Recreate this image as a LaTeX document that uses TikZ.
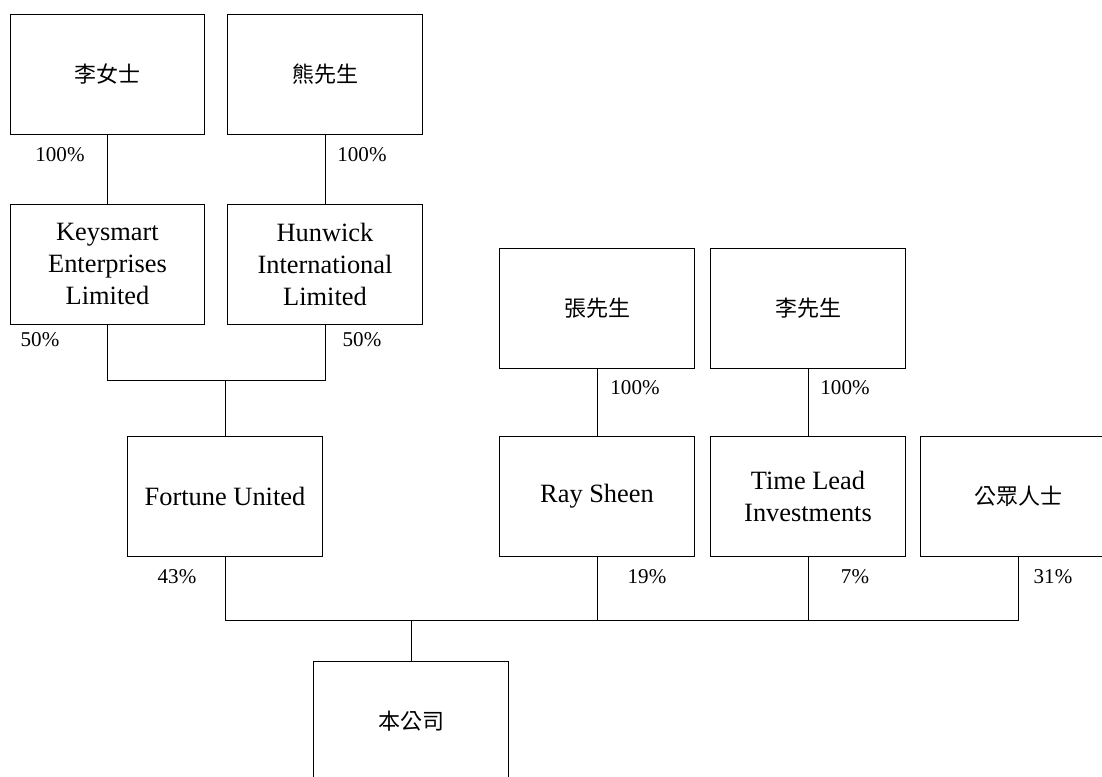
\documentclass[tikz,border=0pt]{standalone}
\usepackage{fontspec}
\setmainfont{Liberation Serif}
\newfontfamily\cjk{Noto Sans CJK TC}
\usepackage{tikz}

\tikzset{
  holder/.style={draw, line width=0.7pt, minimum width=146pt, minimum height=90pt,
    inner sep=0pt, align=center, font=\fontsize{19.8}{24}\selectfont},
  cjkholder/.style={holder, font=\cjk\fontsize{16.5}{20}\selectfont},
  pct/.style={inner sep=0.75pt, font=\fontsize{15.8}{18}\selectfont},
  link/.style={line width=0.7pt}
}

\begin{document}
\begin{tikzpicture}[x=0.75pt,y=0.75pt,yscale=-1,xscale=1]
\useasboundingbox (0,0) rectangle (1102,776);

% Holders
\node[cjkholder] (msli) at (107.5,74) {李女士};
\node[cjkholder] (mrhung) at (325,74) {熊先生};
\node[holder] (keysmart) at (107.5,264) {Keysmart\\Enterprises\\Limited};
\node[holder] (hunwick) at (325,264) {Hunwick\\International\\Limited};
\node[cjkholder] (mrcheung) at (597,308) {張先生};
\node[cjkholder] (mrlee) at (808,308) {李先生};
\node[holder] (fortune) at (225,496) {Fortune United};
\node[holder] (raysheen) at (597,496) {Ray Sheen};
\node[holder] (timelead) at (808,496) {Time Lead\\Investments};
\node[cjkholder] (public) at (1018,496) {公眾人士};
\node[cjkholder] (company) at (411,721) {本公司};

% Joints
\coordinate (joint) at (225,380);
\coordinate (bus) at (411,620);

% Links
\draw[link] (msli) -- (keysmart);
\draw[link] (mrhung) -- (hunwick);
\draw[link] (keysmart.south) |- (joint) -| (hunwick.south);
\draw[link] (joint) -- (fortune.north);
\draw[link] (mrcheung) -- (raysheen);
\draw[link] (mrlee) -- (timelead);
\draw[link] (fortune.south) |- (bus) -| (public.south);
\draw[link] (raysheen.south) -- (raysheen.south |- bus);
\draw[link] (timelead.south) -- (timelead.south |- bus);
\draw[link] (bus) -- (company.north);

% Percentages
\node[pct] (p1) at (60,155) {100\%};
\node[pct] (p2) at (362,155) {100\%};
\node[pct] (p3) at (40,340) {50\%};
\node[pct] (p4) at (362,340) {50\%};
\node[pct] (p5) at (635,388) {100\%};
\node[pct] (p6) at (845,388) {100\%};
\node[pct] (p7) at (177,577) {43\%};
\node[pct] (p8) at (647,577) {19\%};
\node[pct] (p9) at (855,577) {7\%};
\node[pct] (p10) at (1053,577) {31\%};

\end{tikzpicture}
\end{document}
